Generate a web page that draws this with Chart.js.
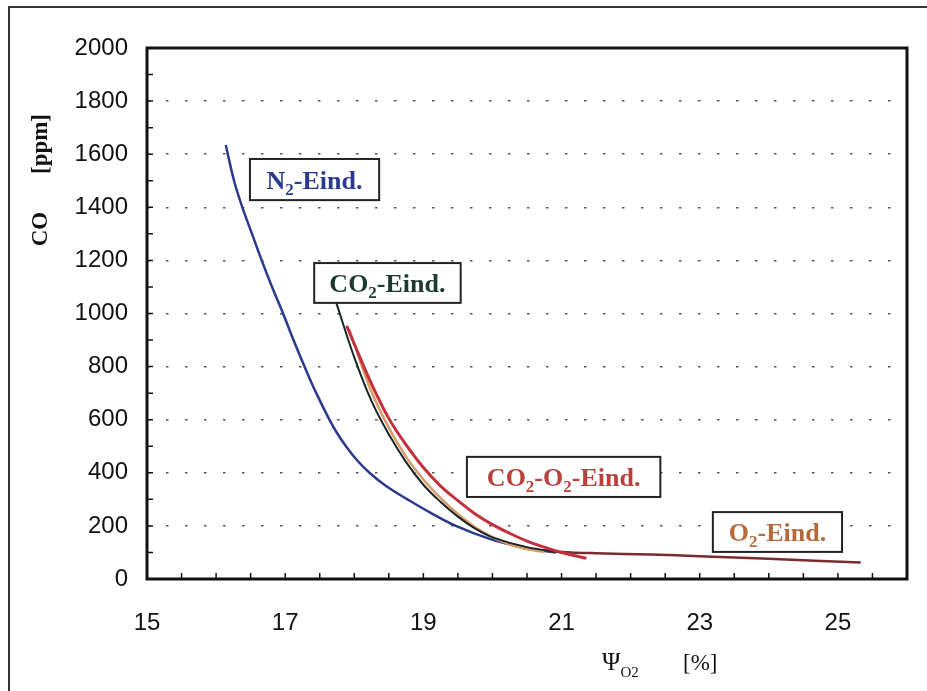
<!DOCTYPE html>
<html>
<head>
<meta charset="utf-8">
<script src="https://cdn.jsdelivr.net/npm/chart.js@4.4.1/dist/chart.umd.min.js"></script>
<style>
  html, body { margin: 0; padding: 0; background: #fff; }
  #wrap { width: 927px; height: 691px; }
</style>
</head>
<body>
<div id="wrap"><canvas id="coChart" width="927" height="691"></canvas></div>
<script>
// CO-Konzentration über O2-Anteil für verschiedene Eindüsungen
const xTicks = [15, 17, 19, 21, 23, 25];

// N2-Eind.
const n2O2 = [16.14, 16.26, 16.38, 16.52, 16.66, 16.81, 16.97, 17.12, 17.28, 17.45, 17.64, 17.75, 17.88, 18.03, 18.22, 18.46, 18.77, 19.10, 19.47, 19.97, 20.42, 20.92];
const n2CO = [1635, 1500, 1400, 1300, 1200, 1100, 1000, 900, 800, 700, 600, 550, 500, 450, 400, 350, 300, 250, 200, 150, 120, 100];

// CO2-Eind.
const co2O2 = [17.74, 18.0, 18.25, 18.5, 18.75, 19.0, 19.25, 19.5, 19.75, 20.0, 20.5, 21.0];
const co2CO = [1040, 835, 670, 545, 440, 355, 290, 235, 190, 157, 120, 100];

// CO2-O2-Eind.
const mixO2 = [17.89, 18.0, 18.25, 18.5, 18.75, 19.0, 19.25, 19.5, 19.75, 20.0, 20.25, 20.5, 20.75, 21.0, 21.36];
const mixCO = [954, 885, 735, 605, 505, 420, 350, 295, 245, 205, 172, 143, 120, 100, 78];

// O2-Eind., Abfall und Verlauf oberhalb 21 %
const o2LowO2 = [17.93, 18.0, 18.25, 18.5, 18.75, 19.0, 19.25, 19.5, 19.75, 20.0, 20.25, 20.5, 20.75];
const o2LowCO = [940, 885, 705, 570, 460, 375, 305, 245, 195, 158, 130, 112, 103];
const o2HighO2 = [20.60, 21.00, 21.50, 22.30, 23.00, 24.00, 25.33];
const o2HighCO = [110, 102, 97, 92, 86, 76, 62];

const toPoints = (xs, ys) => xs.map((x, i) => ({ x: x, y: ys[i] }));

function curve(label, xs, ys, color, width) {
    return {
        label: label,
        data: toPoints(xs, ys),
        showLine: true,
        borderColor: color,
        borderWidth: width,
        pointRadius: 0,
        tension: 0.4,
        fill: false
    };
}

// Beschriftungskästen (Ecken in Achsenwerten)
const boxes = [
    { x1: 16.49, x2: 18.36, y1: 1582, y2: 1427, color: '#2b3a8f',
      parts: [['N'], ['2', 1], ['-Eind.']] },
    { x1: 17.42, x2: 19.54, y1: 1190, y2: 1040, color: '#1c3a30',
      parts: [['CO'], ['2', 1], ['-Eind.']] },
    { x1: 19.63, x2: 22.43, y1: 460, y2: 309, color: '#b8413a',
      parts: [['CO'], ['2', 1], ['-O'], ['2', 1], ['-Eind.']] },
    { x1: 23.19, x2: 25.06, y1: 252, y2: 102, color: '#b56a3c',
      parts: [['O'], ['2', 1], ['-Eind.']] }
];

const serif = "'Liberation Serif', 'Times New Roman', serif";

function richWidth(ctx, parts, size, subSize, weight) {
    let w = 0;
    parts.forEach(p => {
        ctx.font = weight + ' ' + (p[1] ? subSize : size) + 'px ' + serif;
        w += ctx.measureText(p[0]).width;
    });
    return w;
}

function drawRich(ctx, parts, x, y, size, subSize, weight, subDrop) {
    parts.forEach(p => {
        ctx.font = weight + ' ' + (p[1] ? subSize : size) + 'px ' + serif;
        ctx.fillText(p[0], x, y + (p[1] ? subDrop : 0));
        x += ctx.measureText(p[0]).width;
    });
}

const decorPlugin = {
    id: 'decor',
    afterDatasetsDraw(chart) {
        const ctx = chart.ctx;
        const xs = chart.scales.x;
        const ys = chart.scales.y;
        const area = chart.chartArea;
        ctx.save();

        // kleine Teilstriche nach innen
        ctx.strokeStyle = '#111';
        ctx.lineWidth = 1.5;
        ctx.beginPath();
        for (let v = 15.5; v < 26; v += 0.5) {
            const px = xs.getPixelForValue(v);
            ctx.moveTo(px, area.bottom);
            ctx.lineTo(px, area.bottom - 6);
        }
        for (let v = 100; v < 2000; v += 100) {
            const py = ys.getPixelForValue(v);
            ctx.moveTo(area.left, py);
            ctx.lineTo(area.left + 6, py);
        }
        ctx.stroke();

        // Rahmen des Diagrammbereichs
        ctx.lineWidth = 3;
        ctx.strokeStyle = '#111';
        ctx.strokeRect(area.left, area.top, area.right - area.left, area.bottom - area.top);

        // Beschriftungskästen
        boxes.forEach(b => {
            const l = xs.getPixelForValue(b.x1), r = xs.getPixelForValue(b.x2);
            const t = ys.getPixelForValue(b.y1), btm = ys.getPixelForValue(b.y2);
            ctx.fillStyle = '#fff';
            ctx.fillRect(l, t, r - l, btm - t);
            ctx.lineWidth = 2;
            ctx.strokeStyle = '#222';
            ctx.strokeRect(l, t, r - l, btm - t);
            const w = richWidth(ctx, b.parts, 26, 17, 'bold');
            ctx.fillStyle = b.color;
            ctx.textBaseline = 'alphabetic';
            ctx.textAlign = 'left';
            drawRich(ctx, b.parts, (l + r) / 2 - w / 2, (t + btm) / 2 + 9, 26, 17, 'bold', 6);
        });

        // Achsentitel y
        ctx.fillStyle = '#111';
        ctx.save();
        ctx.translate(41, 178);
        ctx.rotate(-Math.PI / 2);
        ctx.font = 'bold 23px ' + serif;
        ctx.textAlign = 'center';
        ctx.textBaseline = 'middle';
        ctx.fillText('CO', -51, 0);
        ctx.fillText('[ppm]', 34, 0);
        ctx.restore();

        // Achsentitel x
        ctx.textAlign = 'left';
        ctx.textBaseline = 'alphabetic';
        drawRich(ctx, [['\u03A8'], ['O', 1], ['2', 1]], 602, 670, 25, 15, 'normal', 7);
        ctx.font = '23px ' + serif;
        ctx.fillText('[%]', 683, 670);

        // äußerer Rahmen
        ctx.lineWidth = 2;
        ctx.strokeStyle = '#333';
        ctx.beginPath();
        ctx.moveTo(927, 7);
        ctx.lineTo(9, 7);
        ctx.lineTo(9, 691);
        ctx.stroke();

        ctx.restore();
    }
};

const tickFont = { family: "'Liberation Sans', Arial, sans-serif", size: 24 };

new Chart(document.getElementById('coChart'), {
    type: 'scatter',
    data: {
        datasets: [
            curve('CO2-O2-Eind.', mixO2, mixCO, '#c4303c', 3),
            curve('CO2-Eind.', co2O2, co2CO, '#1b2626', 2),
            curve('O2-Eind.', o2LowO2, o2LowCO, '#d89c68', 2.5),
            curve('O2-Eind. > 21 %', o2HighO2, o2HighCO, '#7a2b30', 2.5),
            curve('N2-Eind.', n2O2, n2CO, '#2b3a8f', 2.5)
        ]
    },
    options: {
        responsive: false,
        animation: false,
        events: [],
        layout: { padding: { top: 48, right: 20, left: 0, bottom: 0 } },
        plugins: { legend: { display: false }, tooltip: { enabled: false } },
        scales: {
            x: {
                type: 'linear',
                min: 15,
                max: 26,
                afterBuildTicks: s => { s.ticks = xTicks.map(v => ({ value: v })); },
                afterFit: s => { s.height = 112; },
                grid: { display: false },
                border: { display: false },
                ticks: { padding: 22, color: '#111', font: tickFont, maxRotation: 0, autoSkip: false,
                         callback: v => String(v) }
            },
            y: {
                type: 'linear',
                min: 0,
                max: 2000,
                afterFit: s => { s.width = 147; },
                grid: {
                    drawTicks: false,
                    lineWidth: 1.6,
                    color: c => (c.tick && (c.tick.value === 0 || c.tick.value === 2000)) ? 'rgba(0,0,0,0)' : '#555'
                },
                border: { display: false, dash: [2.5, 16.5] },
                ticks: { stepSize: 200, padding: 19, color: '#111', font: tickFont,
                         callback: v => String(v) }
            }
        }
    },
    plugins: [decorPlugin]
});
</script>
</body>
</html>
